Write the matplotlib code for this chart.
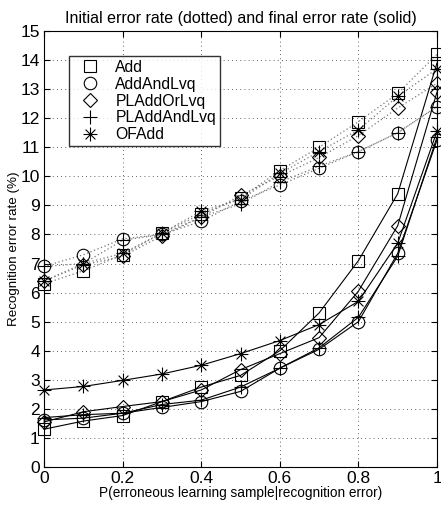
import matplotlib
matplotlib.use("Agg")
import matplotlib.pyplot as plt
from matplotlib.path import Path
from matplotlib.lines import Line2D
import numpy as np

plt.rcParams['font.family'] = ['Liberation Sans', 'DejaVu Sans']

x = [0, 0.1, 0.2, 0.3, 0.4, 0.5, 0.6, 0.7, 0.8, 0.9, 1.0]
series = ["Add", "AddAndLvq", "PLAddOrLvq", "PLAddAndLvq", "OFAdd"]

# initial error rate (dotted)
init_add = [6.3, 6.75, 7.3, 8.05, 8.7, 9.25, 10.2, 11.0, 11.88, 12.85, 14.2]
init_addlvq = [6.9, 7.3, 7.85, 8.0, 8.45, 9.15, 9.7, 10.28, 10.85, 11.5, 12.4]
init_pladdorlvq = [6.4, 6.95, 7.25, 7.95, 8.6, 9.35, 10.0, 10.65, 11.4, 12.35, 13.2]
init_pladdandlvq = [6.9, 7.0, 7.8, 8.0, 8.6, 9.05, 9.8, 10.35, 10.85, 11.5, 12.4]
init_ofadd = [6.4, 7.0, 7.35, 8.05, 8.8, 9.2, 10.1, 10.85, 11.6, 12.75, 13.7]

# final error rate (solid)
fin_add = [1.3, 1.58, 1.77, 2.25, 2.75, 3.15, 4.0, 5.3, 7.1, 9.4, 13.9]
fin_addlvq = [1.62, 1.68, 1.85, 2.05, 2.25, 2.6, 3.4, 4.05, 5.0, 7.35, 11.25]
fin_pladdorlvq = [1.55, 1.9, 2.08, 2.25, 2.65, 3.35, 3.9, 4.45, 6.05, 8.3, 12.9]
fin_pladdandlvq = [1.7, 1.8, 1.85, 2.15, 2.3, 2.75, 3.4, 4.1, 5.15, 7.25, 11.35]
fin_ofadd = [2.65, 2.77, 2.98, 3.2, 3.5, 3.9, 4.35, 4.9, 5.7, 7.7, 11.55]

initial = [init_add, init_addlvq, init_pladdorlvq, init_pladdandlvq, init_ofadd]
final = [fin_add, fin_addlvq, fin_pladdorlvq, fin_pladdandlvq, fin_ofadd]

d = 0.7071
ast = Path([(0, -1), (0, 1), (-1, 0), (1, 0), (-d, -d), (d, d), (-d, d), (d, -d)],
           [Path.MOVETO, Path.LINETO] * 4)
markers = ['s', 'o', 'D', '+', ast]
msizes = [8, 9, 7, 10, 10]

fig = plt.figure(figsize=(4.41, 5.11), dpi=100)
ax = fig.add_axes([44 / 441, 1 - 467 / 511, (437 - 44) / 441, (467 - 31) / 511])

for i in range(5):
    ax.plot(x, initial[i], linestyle=(0, (1, 2)), color='#777777', lw=0.9, marker=markers[i],
            markersize=msizes[i], markerfacecolor='none', markeredgecolor='black',
            markeredgewidth=0.8, clip_on=False)
    ax.plot(x, final[i], linestyle='-', color='black', lw=0.8, marker=markers[i],
            markersize=msizes[i], markerfacecolor='none', markeredgecolor='black',
            markeredgewidth=0.8, clip_on=False)

ax.set_xlim(0, 1)
ax.set_ylim(0, 15)
ax.set_xticks([0, 0.2, 0.4, 0.6, 0.8, 1.0])
ax.set_xticklabels(["0", "0.2", "0.4", "0.6", "0.8", "1"])
ax.set_yticks(range(0, 16))
ax.tick_params(direction='in', top=True, right=True, labelsize=12.5, length=4, pad=3)
ax.grid(True, linestyle=(0, (1, 4)), color='#333333', lw=0.6)
for s in ax.spines.values():
    s.set_linewidth(0.8)

ax.set_title("Initial error rate (dotted) and final error rate (solid)", fontsize=11.5, pad=6)
ax.set_xlabel("P(erroneous learning sample|recognition error)", fontsize=9.8, labelpad=0)
ax.set_ylabel("Recognition error rate (%)", fontsize=9.6, labelpad=0)

handles = [Line2D([], [], linestyle='none', marker=markers[i], markersize=msizes[i],
                  markerfacecolor='none', markeredgecolor='black', markeredgewidth=0.8)
           for i in range(5)]
leg = ax.legend(handles, series, loc='upper left', bbox_to_anchor=(0.064, 0.943),
                fontsize=11.3, frameon=True, fancybox=False, edgecolor='black',
                borderpad=0.25, labelspacing=0.12, handletextpad=0.6, handlelength=2.1,
                borderaxespad=0)
leg.get_frame().set_linewidth(1.0)

fig.savefig("out.png", dpi=100)
